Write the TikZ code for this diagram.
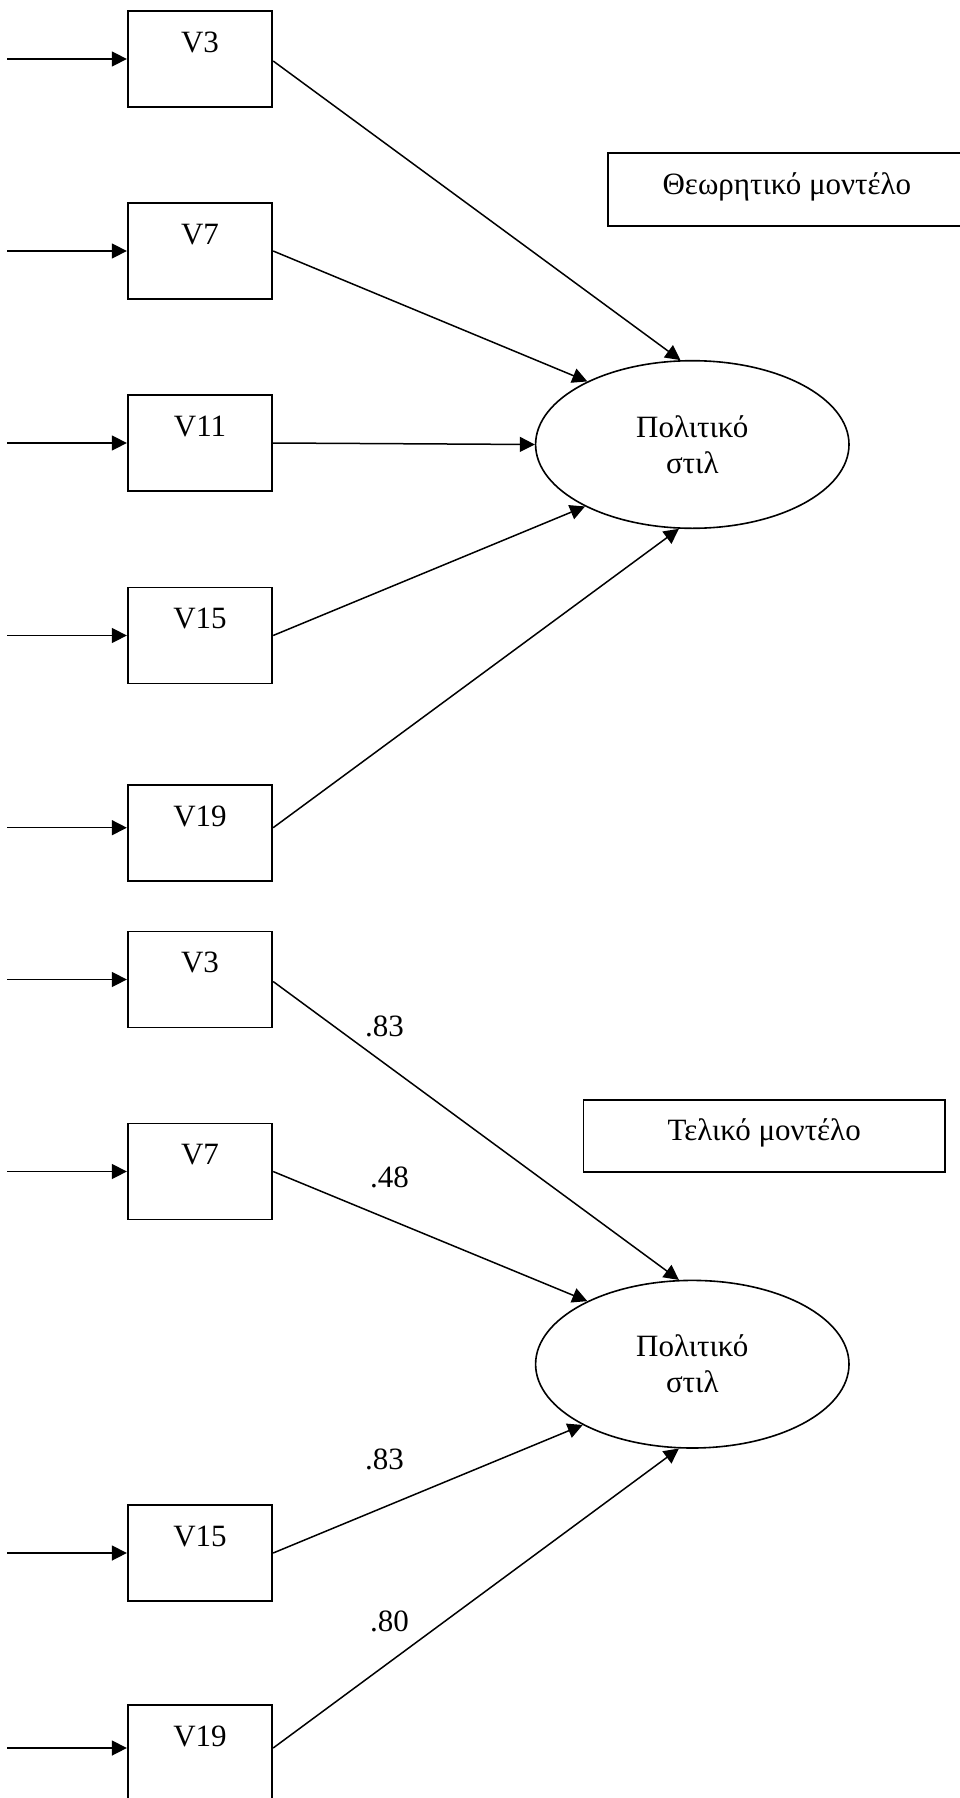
\documentclass[tikz,border=0pt]{standalone}
\usepackage{fontspec}
\setmainfont{Liberation Serif}
\usetikzlibrary{arrows.meta,shapes.geometric}
\begin{document}
\begin{tikzpicture}[x=1pt,y=-1pt,
  every node/.style={font=\fontsize{31pt}{36pt}\selectfont},
  varbox/.style={draw, line width=1.7pt, rectangle, minimum width=144.6pt,
    minimum height=96pt, inner xsep=0pt, inner ysep=0pt,
    text height=41.3pt, text depth=54.7pt},
  latent/.style={draw, line width=1.6pt, ellipse, minimum width=313.4pt,
    minimum height=167.6pt, inner sep=0pt, align=center},
  titlebox/.style={draw, line width=1.7pt, rectangle, inner xsep=0pt, inner ysep=0pt},
  arr/.style={line width=1.5pt, -{Triangle[length=15pt,width=15pt]}},
  coef/.style={anchor=base}]
\useasboundingbox (0,0) rectangle (960,1798);

% ---------- theoretical model ----------
\node[titlebox, minimum width=358.3pt, minimum height=72.4pt,
      text height=41.7pt, text depth=30.7pt] (t1) at (786.9,189.5) {Θεωρητικό μοντέλο};

\node[varbox] (a3)  at (200,59)  {V3};
\node[varbox] (a7)  at (200,251) {V7};
\node[varbox] (a11) at (200,443) {V11};
\node[varbox] (a15) at (200,635.5) {V15};
\node[varbox] (a19) at (200,833) {V19};

\node[latent] (e1) at (692.3,444.5) {Πολιτικό\\στιλ};

\coordinate (s3)  at (7,59);
\coordinate (s7)  at (7,251);
\coordinate (s11) at (7,443);
\coordinate (s15) at (7,635.5);
\coordinate (s19) at (7,827.7);

\draw[arr] (s3)  -- (a3);
\draw[arr] (s7)  -- (a7);
\draw[arr] (s11) -- (a11);
\draw[arr] (s15) -- (a15);
\draw[arr] (s19) -- ([yshift=5.3pt]a19.west);

\draw[arr] ([yshift=-2pt]a3.east) -- (e1.98.9);
\draw[arr] (a7.east)  -- (e1.149);
\draw[arr] (a11.east) -- (e1.180);
\draw[arr] (a15.east) -- (e1.210);
\draw[arr] ([yshift=5.3pt]a19.east) -- (e1.261);

% ---------- final model ----------
\node[titlebox, minimum width=361.7pt, minimum height=71.7pt,
      text height=40pt, text depth=31.7pt] (t2) at (764.2,1135.85) {Τελικό μοντέλο};

\node[varbox] (b3)  at (200,979.5)  {V3};
\node[varbox] (b7)  at (200,1171.5) {V7};
\node[varbox] (b15) at (200,1553)   {V15};
\node[varbox] (b19) at (200,1753)   {V19};

\node[latent] (e2) at (692.3,1364.2) {Πολιτικό\\στιλ};

\coordinate (r3)  at (7,979.5);
\coordinate (r7)  at (7,1171.5);
\coordinate (r15) at (7,1553);
\coordinate (r19) at (7,1748);

\draw[arr] (r3)  -- (b3);
\draw[arr] (r7)  -- (b7);
\draw[arr] (r15) -- (b15);
\draw[arr] (r19) -- ([yshift=5pt]b19.west);

\draw[arr] ([yshift=-2pt]b3.east) -- (e2.99.4);
\draw[arr] (b7.east)  -- (e2.149);
\draw[arr] (b15.east) -- (e2.209);
\draw[arr] ([yshift=5pt]b19.east) -- (e2.261);

\node[coef] (c3)  at (384.5,1036)   {.83};
\node[coef] (c7)  at (389.5,1187.3) {.48};
\node[coef] (c15) at (384.5,1469.3) {.83};
\node[coef] (c19) at (389.5,1631.7) {.80};
\end{tikzpicture}
\end{document}
